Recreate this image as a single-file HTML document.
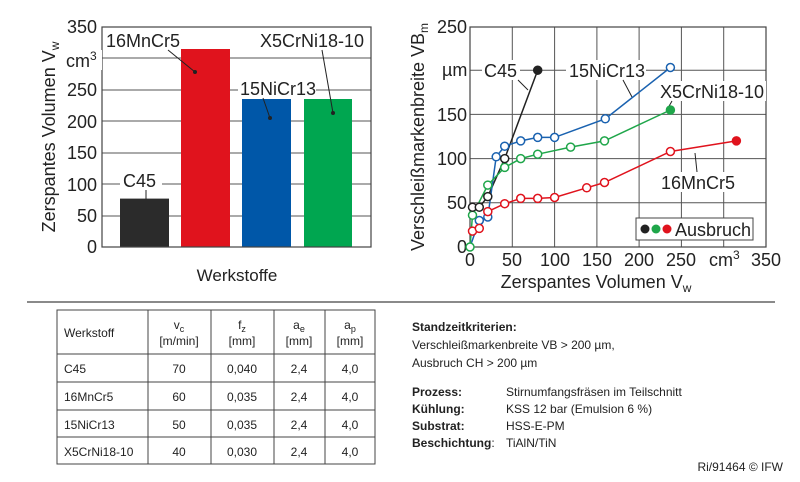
<!DOCTYPE html>
<html><head><meta charset="utf-8"><style>
body{margin:0;background:#fff;}
svg{display:block;font-family:"Liberation Sans",Arial,sans-serif;}
</style></head><body>
<svg width="800" height="482" viewBox="0 0 800 482">
<!-- LEFT CHART -->
<g stroke="#555" stroke-width="1">
<line x1="102" y1="58" x2="371" y2="58"/>
<line x1="102" y1="90" x2="371" y2="90"/>
<line x1="102" y1="121" x2="371" y2="121"/>
<line x1="102" y1="153" x2="371" y2="153"/>
<line x1="102" y1="184" x2="371" y2="184"/>
<line x1="102" y1="216" x2="371" y2="216"/>
</g>
<rect x="120" y="198.6" width="49" height="48.4" fill="#2b2b2b"/>
<rect x="181" y="49" width="49" height="198" fill="#e0131d"/>
<rect x="242" y="99" width="49" height="148" fill="#0057a8"/>
<rect x="304" y="99" width="48" height="148" fill="#00a650"/>
<rect x="102" y="27" width="269" height="220" fill="none" stroke="#444" stroke-width="1.2"/>
<g font-size="18" fill="#222" text-anchor="end">
<text x="97" y="33">350</text><text x="97" y="128">200</text><text x="97" y="159">150</text>
<text x="97" y="191">100</text><text x="97" y="222">50</text><text x="97" y="253">0</text>
<text x="97" y="96">250</text>
</g>
<rect x="62" y="50" width="40" height="20" fill="#fff"/>
<text x="66" y="67" font-size="18" fill="#222">cm<tspan font-size="12" dy="-7">3</tspan></text>
<text transform="translate(55,137) rotate(-90)" font-size="18" fill="#222" text-anchor="middle">Zerspantes Volumen V<tspan font-size="12" dy="4">w</tspan></text>
<text x="237" y="281" font-size="17" fill="#222" text-anchor="middle">Werkstoffe</text>
<rect x="120" y="170" width="42" height="20" fill="#fff"/>
<text x="123" y="187" font-size="18" fill="#222">C45</text>
<line x1="146" y1="190" x2="146" y2="199" stroke="#222"/>
<rect x="104" y="30" width="76" height="20" fill="#fff"/>
<text x="106" y="47" font-size="18" fill="#222">16MnCr5</text>
<line x1="168" y1="50" x2="195" y2="72" stroke="#222"/><circle cx="195" cy="72" r="2" fill="#222"/>
<rect x="238" y="78" width="78" height="20" fill="#fff"/>
<text x="240" y="95" font-size="18" fill="#222">15NiCr13</text>
<line x1="263" y1="98" x2="270" y2="118" stroke="#222"/><circle cx="270" cy="118" r="2" fill="#222"/>
<rect x="258" y="30" width="110" height="20" fill="#fff"/>
<text x="260" y="47" font-size="18" fill="#222">X5CrNi18-10</text>
<line x1="322" y1="50" x2="333" y2="113" stroke="#222"/><circle cx="333" cy="113" r="2" fill="#222"/>

<!-- RIGHT CHART -->
<g stroke="#555" stroke-width="1">
<line x1="470" y1="70.2" x2="766" y2="70.2"/>
<line x1="470" y1="114.4" x2="766" y2="114.4"/>
<line x1="470" y1="158.6" x2="766" y2="158.6"/>
<line x1="470" y1="202.8" x2="766" y2="202.8"/>
<line x1="512.3" y1="27" x2="512.3" y2="247"/>
<line x1="554.6" y1="27" x2="554.6" y2="247"/>
<line x1="596.9" y1="27" x2="596.9" y2="247"/>
<line x1="639.1" y1="27" x2="639.1" y2="247"/>
<line x1="681.4" y1="27" x2="681.4" y2="247"/>
<line x1="723.7" y1="27" x2="723.7" y2="247"/>
</g>
<rect x="470" y="27" width="296" height="220" fill="none" stroke="#444" stroke-width="1.2"/>
<g font-size="18" fill="#222" text-anchor="end">
<text x="467" y="33">250</text><text x="467" y="121">150</text><text x="467" y="165">100</text>
<text x="467" y="209">50</text><text x="467" y="253">0</text>
</g>
<text x="442" y="76" font-size="18" fill="#222">µm</text>
<g font-size="18" fill="#222" text-anchor="middle">
<text x="470" y="266">0</text><text x="512" y="266">50</text><text x="555" y="266">100</text>
<text x="597" y="266">150</text><text x="639" y="266">200</text><text x="681" y="266">250</text>
<text x="766" y="266">350</text>
</g>
<text x="709" y="266" font-size="18" fill="#222">cm<tspan font-size="12" dy="-7">3</tspan></text>
<text x="596" y="288" font-size="18" fill="#222" text-anchor="middle">Zerspantes Volumen V<tspan font-size="12" dy="4">w</tspan></text>
<text transform="translate(424,137) rotate(-90)" font-size="18" fill="#222" text-anchor="middle">Verschleißmarkenbreite VB<tspan font-size="12" dy="4">m</tspan></text>

<!-- labels -->
<rect x="482" y="60" width="38" height="20" fill="#fff"/>
<text x="484" y="77" font-size="18" fill="#222">C45</text>
<line x1="518" y1="80" x2="528" y2="90" stroke="#222"/>
<rect x="566" y="60" width="80" height="20" fill="#fff"/>
<text x="569" y="77" font-size="18" fill="#222">15NiCr13</text>
<line x1="623" y1="80" x2="632" y2="97" stroke="#222"/>
<rect x="658" y="81" width="108" height="20" fill="#fff"/>
<text x="660" y="98" font-size="18" fill="#222">X5CrNi18-10</text>
<line x1="672" y1="101" x2="668" y2="108" stroke="#222"/>
<rect x="659" y="172" width="80" height="20" fill="#fff"/>
<text x="661" y="189" font-size="18" fill="#222">16MnCr5</text>
<line x1="697" y1="172" x2="695" y2="153" stroke="#222"/>

<!-- series -->
<g fill="none" stroke-width="1.5">
<polyline stroke="#222" points="472.5,207.2 479.3,207.2 487.8,196.6 504.7,158.6 537.7,70.2"/>
<polyline stroke="#1a62b0" points="470,247 479.3,220.5 487.8,217 496.2,156.8 504.7,146.2 520.7,140.9 537.7,137.4 554.6,137.4 605.3,118.8 670.4,67.5"/>
<polyline stroke="#1fa64a" points="470,247 472.5,215.2 487.8,185.1 504.7,167.4 520.7,158.6 537.7,154.2 570.6,147.1 604.5,140.9 670.4,110"/>
<polyline stroke="#e0131d" points="472.5,231.1 479.3,228.4 487.8,211.6 504.7,203.7 520.7,198.4 537.7,198.4 554.6,197.5 586.7,187.8 604.5,182.5 670.4,151.5 736.4,140.9"/>
</g>
<g fill="#fff" stroke-width="1.5">
<g stroke="#1a62b0"><circle cx="479.3" cy="220.5" r="4"/><circle cx="487.8" cy="217" r="4"/><circle cx="496.2" cy="156.8" r="4"/><circle cx="504.7" cy="146.2" r="4"/><circle cx="520.7" cy="140.9" r="4"/><circle cx="537.7" cy="137.4" r="4"/><circle cx="554.6" cy="137.4" r="4"/><circle cx="605.3" cy="118.8" r="4"/><circle cx="670.4" cy="67.5" r="4"/></g>
<g stroke="#1fa64a"><circle cx="470" cy="247" r="4"/><circle cx="472.5" cy="215.2" r="4"/><circle cx="487.8" cy="185.1" r="4"/><circle cx="504.7" cy="167.4" r="4"/><circle cx="520.7" cy="158.6" r="4"/><circle cx="537.7" cy="154.2" r="4"/><circle cx="570.6" cy="147.1" r="4"/><circle cx="604.5" cy="140.9" r="4"/><circle cx="670.4" cy="110" r="4" fill="#1fa64a"/></g>
<g stroke="#e0131d"><circle cx="472.5" cy="231.1" r="4"/><circle cx="479.3" cy="228.4" r="4"/><circle cx="487.8" cy="211.6" r="4"/><circle cx="504.7" cy="203.7" r="4"/><circle cx="520.7" cy="198.4" r="4"/><circle cx="537.7" cy="198.4" r="4"/><circle cx="554.6" cy="197.5" r="4"/><circle cx="586.7" cy="187.8" r="4"/><circle cx="604.5" cy="182.5" r="4"/><circle cx="670.4" cy="151.5" r="4"/><circle cx="736.4" cy="140.9" r="4" fill="#e0131d"/></g>
<g stroke="#222"><circle cx="472.5" cy="207.2" r="4"/><circle cx="479.3" cy="207.2" r="4"/><circle cx="487.8" cy="196.6" r="4"/><circle cx="504.7" cy="158.6" r="4"/><circle cx="537.7" cy="70.2" r="4" fill="#222"/></g>
</g>
<rect x="636" y="218" width="117" height="22" fill="#fff" stroke="#444"/>
<circle cx="645" cy="229" r="4.5" fill="#222"/><circle cx="656" cy="229" r="4.5" fill="#1fa64a"/><circle cx="667" cy="229" r="4.5" fill="#e0131d"/>
<text x="675" y="236" font-size="18" fill="#222">Ausbruch</text>

<!-- separator -->
<line x1="27" y1="302" x2="775" y2="302" stroke="#444" stroke-width="1.2"/>

<!-- table -->
<g stroke="#444" stroke-width="1" fill="none">
<rect x="57" y="310" width="318" height="154"/>
<line x1="57" y1="354" x2="375" y2="354"/><line x1="57" y1="382" x2="375" y2="382"/>
<line x1="57" y1="410" x2="375" y2="410"/><line x1="57" y1="437" x2="375" y2="437"/>
<line x1="148" y1="310" x2="148" y2="464"/><line x1="211" y1="310" x2="211" y2="464"/>
<line x1="274" y1="310" x2="274" y2="464"/><line x1="325" y1="310" x2="325" y2="464"/>
</g>
<g font-size="12" fill="#222">
<text x="64" y="337">Werkstoff</text>
<text x="64" y="373">C45</text><text x="64" y="401">16MnCr5</text><text x="64" y="429">15NiCr13</text><text x="64" y="456">X5CrNi18-10</text>
<g text-anchor="middle">
<text x="179" y="329">v<tspan font-size="9" dy="3">c</tspan></text><text x="179" y="345">[m/min]</text>
<text x="242" y="329">f<tspan font-size="9" dy="3">z</tspan></text><text x="242" y="345">[mm]</text>
<text x="299" y="329">a<tspan font-size="9" dy="3">e</tspan></text><text x="299" y="345">[mm]</text>
<text x="350" y="329">a<tspan font-size="9" dy="3">p</tspan></text><text x="350" y="345">[mm]</text>
<text x="179" y="373">70</text><text x="179" y="401">60</text><text x="179" y="429">50</text><text x="179" y="456">40</text>
<text x="242" y="373">0,040</text><text x="242" y="401">0,035</text><text x="242" y="429">0,035</text><text x="242" y="456">0,030</text>
<text x="299" y="373">2,4</text><text x="299" y="401">2,4</text><text x="299" y="429">2,4</text><text x="299" y="456">2,4</text>
<text x="350" y="373">4,0</text><text x="350" y="401">4,0</text><text x="350" y="429">4,0</text><text x="350" y="456">4,0</text>
</g>
</g>

<!-- right text -->
<g font-size="12" fill="#222">
<text x="412" y="331" font-weight="bold">Standzeitkriterien:</text>
<text x="412" y="349">Verschleißmarkenbreite VB &gt; 200 µm,</text>
<text x="412" y="367">Ausbruch CH &gt; 200 µm</text>
<text x="412" y="396" font-weight="bold">Prozess:</text><text x="506" y="396">Stirnumfangsfräsen im Teilschnitt</text>
<text x="412" y="413" font-weight="bold">Kühlung:</text><text x="506" y="413">KSS 12 bar (Emulsion 6 %)</text>
<text x="412" y="430" font-weight="bold">Substrat:</text><text x="506" y="430">HSS-E-PM</text>
<text x="412" y="447"><tspan font-weight="bold">Beschichtung</tspan>:</text><text x="506" y="447">TiAlN/TiN</text>
<text x="783" y="471" text-anchor="end">Ri/91464  © IFW</text>
</g>
</svg>
</body></html>
